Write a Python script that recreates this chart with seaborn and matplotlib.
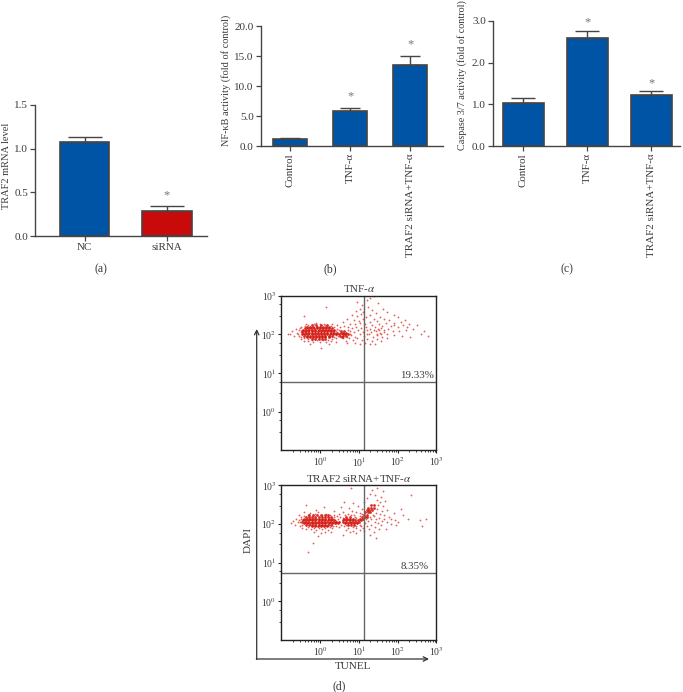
import numpy as np
import pandas as pd
import seaborn as sns
import matplotlib.pyplot as plt

nc_labels = ["NC", "siRNA"]
nc_values = [1.07, 0.29]
nc_tops = [1.13, 0.35]

nfkb_labels = ["Control", "TNF-α", "TRAF2 siRNA+TNF-α"]
nfkb_values = [1.2, 5.95, 13.45]
nfkb_tops = [1.35, 6.35, 15.0]

casp_values = [1.03, 2.58, 1.23]
casp_tops = [1.15, 2.76, 1.31]

# flow cytometry clouds in log10 units. core: one row per DAPI level (y, [x, x, ...])
tnf_core = [
    (2.24, [-0.22, -0.1, 0.03, 0.17]),
    (2.2, [-0.33, -0.25, -0.17, -0.09, -0.01, 0.07, 0.15, 0.23]),
    (2.16, [-0.4, -0.32, -0.24, -0.16, -0.08, 0.0, 0.08, 0.16, 0.24, 0.3]),
    (2.12, [-0.44, -0.36, -0.28, -0.2, -0.12, -0.04, 0.04, 0.12, 0.2, 0.28, 0.35]),
    (2.08, [-0.46, -0.38, -0.3, -0.22, -0.14, -0.06, 0.02, 0.1, 0.18, 0.26, 0.33, 0.55, 0.62]),
    (2.04, [-0.45, -0.37, -0.29, -0.21, -0.13, -0.05, 0.03, 0.11, 0.19, 0.27, 0.36, 0.45, 0.53, 0.6, 0.67]),
    (2.0, [-0.46, -0.38, -0.3, -0.22, -0.14, -0.06, 0.02, 0.1, 0.18, 0.26, 0.34, 0.42, 0.5, 0.58, 0.65, 0.71]),
    (1.96, [-0.42, -0.34, -0.26, -0.18, -0.1, -0.02, 0.06, 0.14, 0.22, 0.3, 0.52, 0.6, 0.66]),
    (1.92, [-0.34, -0.26, -0.18, -0.1, -0.02, 0.06, 0.14, 0.22, 0.56]),
    (1.88, [-0.2, -0.12, -0.04, 0.04, 0.12]),
]
tnf_halo = [
    (1.38, 3.0), (1.3, 2.93), (0.15, 2.72), (1.2, 2.88), (0.95, 2.84), (1.08, 2.76), (1.5, 2.8), (1.62, 2.66),
    (1.02, 2.66), (1.12, 2.58), (0.92, 2.61), (1.24, 2.7), (1.35, 2.62), (1.44, 2.55), (1.72, 2.58), (1.9, 2.5),
    (-0.42, 2.48), (0.82, 2.5), (0.96, 2.47), (1.06, 2.52), (1.18, 2.44), (1.3, 2.51), (1.55, 2.46), (1.66, 2.41),
    (2.02, 2.45), (2.18, 2.38), (0.7, 2.4), (0.88, 2.37), (1.0, 2.35), (1.12, 2.39), (1.4, 2.4), (1.48, 2.34),
    (1.78, 2.36), (1.92, 2.3), (2.08, 2.33), (2.3, 2.27), (2.5, 2.24), (0.58, 2.31), (0.76, 2.28), (0.9, 2.26),
    (1.04, 2.3), (1.16, 2.26), (1.28, 2.33), (1.35, 2.24), (1.52, 2.28), (1.6, 2.22), (1.7, 2.3), (1.84, 2.22),
    (2.0, 2.18), (2.15, 2.24), (2.4, 2.14), (-0.1, 2.3), (0.1, 2.27), (0.32, 2.26), (0.44, 2.23), (-0.35, 2.26),
    (-0.5, 2.2), (-0.62, 2.15), (-0.55, 2.1), (-0.72, 2.08), (-0.6, 2.03), (-0.78, 2.02), (-0.68, 1.97), (-0.55, 1.95),
    (-0.84, 2.0), (-0.5, 1.89), (-0.42, 1.84), (-0.3, 1.82), (-0.18, 1.8), (0.0, 1.79), (0.15, 1.81), (0.28, 1.84),
    (0.4, 1.9), (0.44, 2.15), (0.52, 2.2), (0.62, 2.22), (0.72, 2.18), (0.82, 2.16), (0.94, 2.2), (1.06, 2.16),
    (1.18, 2.19), (1.3, 2.15), (1.42, 2.2), (1.5, 2.13), (1.58, 2.17), (1.66, 2.12), (1.76, 2.15), (1.88, 2.09),
    (2.05, 2.08), (2.22, 2.1), (2.6, 2.02), (2.78, 1.96), (0.78, 2.08), (0.88, 2.05), (0.98, 2.1), (1.1, 2.06),
    (1.2, 2.11), (1.32, 2.05), (1.44, 2.09), (1.54, 2.03), (1.64, 2.06), (1.74, 2.02), (1.9, 1.98), (2.12, 1.97),
    (2.32, 1.92), (0.8, 1.98), (0.9, 1.94), (1.02, 2.0), (1.14, 1.95), (1.26, 2.0), (1.36, 1.94), (1.48, 1.98),
    (1.6, 1.93), (1.72, 1.9), (0.74, 1.9), (0.84, 1.86), (0.96, 1.9), (1.08, 1.85), (1.2, 1.88), (1.34, 1.84),
    (1.46, 1.88), (1.58, 1.82), (0.66, 1.84), (0.9, 1.78), (1.02, 1.74), (1.16, 1.78), (1.3, 1.74), (0.03, 1.64),
    (-0.25, 1.76), (0.22, 1.74), (0.4, 1.8), (0.7, 1.78), (1.42, 1.76), (1.92, 2.24), (2.25, 2.2), (2.68, 2.08),
    (-0.52, 2.16), (-0.5, 2.06), (-0.56, 2.01), (-0.48, 1.94), (-0.4, 2.22), (-0.3, 2.25), (-0.15, 2.27), (0.0, 2.26),
    (0.12, 2.23), (0.28, 2.21), (0.36, 2.18), (0.4, 2.09), (0.41, 1.98), (0.36, 1.93), (0.3, 1.89), (0.2, 1.86),
    (0.08, 1.85), (-0.08, 1.85), (-0.22, 1.86), (-0.32, 1.88), (-0.42, 1.91), (0.48, 2.12), (0.72, 2.1), (0.78, 2.02),
    (0.7, 1.94), (0.6, 1.9), (0.47, 1.96), (1.22, 2.02), (1.38, 2.12), (1.46, 2.02), (1.52, 2.1), (1.58, 2.0),
]
sirna_core = [
    (2.22, [-0.28, -0.18, -0.08, 0.02, 0.12, 0.2, 1.14, 1.2]),
    (2.18, [-0.36, -0.28, -0.2, -0.12, -0.04, 0.04, 0.12, 0.2, 0.28, 0.68, 0.76, 1.08, 1.16, 1.22]),
    (2.14, [-0.42, -0.34, -0.26, -0.18, -0.1, -0.02, 0.06, 0.14, 0.22, 0.3, 0.62, 0.7, 0.78, 0.86, 1.04, 1.12]),
    (2.1, [-0.44, -0.36, -0.28, -0.2, -0.12, -0.04, 0.04, 0.12, 0.2, 0.28, 0.36, 0.58, 0.66, 0.74, 0.82, 0.9, 0.98, 1.06]),
    (2.06, [-0.46, -0.38, -0.3, -0.22, -0.14, -0.06, 0.02, 0.1, 0.18, 0.26, 0.34, 0.42, 0.5, 0.6, 0.68, 0.76, 0.84, 0.92, 1.0]),
    (2.02, [-0.42, -0.34, -0.26, -0.18, -0.1, -0.02, 0.06, 0.14, 0.22, 0.3, 0.38, 0.46, 0.64, 0.72, 0.8, 0.88, 0.96]),
    (1.98, [-0.36, -0.28, -0.2, -0.12, -0.04, 0.04, 0.12, 0.2, 0.28, 0.72, 0.8, 0.88]),
    (1.94, [-0.22, -0.14, -0.06, 0.02, 0.1, 0.18]),
    (2.3, [1.16, 1.23, 1.3]),
    (2.36, [1.2, 1.27, 1.34]),
    (2.42, [1.24, 1.31, 1.38]),
    (2.48, [1.32, 1.38]),
]
sirna_halo = [
    (0.8, 2.92), (1.35, 2.88), (1.48, 2.92), (1.62, 2.84), (1.3, 2.78), (1.42, 2.76), (1.58, 2.7), (2.35, 2.76),
    (1.22, 2.66), (1.46, 2.62), (1.55, 2.58), (1.68, 2.6), (0.62, 2.58), (0.85, 2.55), (1.14, 2.56), (1.5, 2.5),
    (1.62, 2.46), (-0.35, 2.48), (0.1, 2.44), (0.55, 2.44), (0.74, 2.42), (0.98, 2.46), (1.08, 2.4), (1.46, 2.38),
    (1.6, 2.34), (1.72, 2.36), (2.1, 2.4), (-0.1, 2.36), (0.36, 2.34), (0.6, 2.32), (0.82, 2.34), (0.94, 2.3),
    (1.44, 2.28), (1.55, 2.26), (1.66, 2.24), (1.9, 2.28), (2.15, 2.22), (-0.42, 2.3), (-0.25, 2.28), (-0.05, 2.3),
    (0.16, 2.26), (0.35, 2.24), (0.5, 2.25), (0.72, 2.26), (0.88, 2.24), (1.02, 2.28), (1.4, 2.2), (1.52, 2.16),
    (1.64, 2.14), (1.78, 2.18), (-0.55, 2.22), (-0.48, 2.18), (-0.62, 2.14), (-0.54, 2.1), (-0.7, 2.08), (-0.58, 2.04),
    (-0.74, 2.02), (-0.64, 1.98), (-0.52, 1.96), (-0.46, 1.9), (-0.36, 1.86), (-0.24, 1.88), (-0.1, 1.84), (0.06, 1.86),
    (0.2, 1.84), (0.3, 1.9), (0.42, 1.94), (0.52, 2.18), (0.46, 2.14), (0.54, 1.98), (0.62, 1.94), (0.72, 1.9),
    (0.84, 1.93), (0.94, 1.9), (1.06, 1.96), (1.16, 2.02), (1.24, 2.08), (1.32, 2.12), (1.42, 2.06), (1.5, 2.02),
    (1.6, 2.08), (1.72, 2.06), (1.82, 2.0), (1.94, 2.1), (2.02, 2.06), (2.28, 2.12), (2.58, 2.1), (2.74, 2.12),
    (2.62, 1.96), (1.12, 1.9), (1.22, 1.94), (1.32, 1.98), (1.42, 1.92), (1.52, 1.88), (1.7, 1.86), (1.14, 1.82),
    (1.26, 1.86), (1.38, 1.8), (1.02, 1.84), (0.84, 1.82), (0.68, 1.84), (0.76, 1.78), (0.92, 1.76), (-0.16, 1.78),
    (0.02, 1.76), (0.14, 1.78), (0.28, 1.8), (0.6, 1.72), (1.3, 1.72), (1.44, 1.64), (-0.05, 1.68), (-0.18, 1.5),
    (1.18, 2.14), (1.28, 2.18), (1.36, 2.24), (1.44, 2.12), (-0.32, 1.28), (1.08, 2.26), (0.9, 2.18), (0.44, 2.2),
    (0.58, 2.16), (0.38, 2.1), (0.5, 1.92), (1.56, 1.98), (1.96, 1.98), (1.82, 2.12),
    (-0.5, 2.14), (-0.52, 2.04), (-0.46, 1.98), (-0.42, 2.2), (-0.32, 2.23), (-0.14, 2.25), (0.06, 2.24), (0.26, 2.22),
    (0.36, 2.17), (0.42, 2.08), (0.42, 2.02), (0.34, 1.96), (0.26, 1.92), (0.12, 1.89), (-0.02, 1.89), (-0.16, 1.9),
    (-0.3, 1.93), (0.64, 2.22), (0.8, 2.22), (0.94, 2.16), (1.02, 2.2), (1.02, 1.98), (0.94, 1.95), (0.66, 1.98),
]
cloud_titles = ["TNF-$\\alpha$", "TRAF2 siRNA+TNF-$\\alpha$"]
cloud_percents = ["19.33%", "8.35%"]
flow_ticks = [1, 10, 100, 1000]
flow_ticklabels = ["10$^0$", "10$^1$", "10$^2$", "10$^3$"]

W, H = 683, 692
GRAY = "#454545"
TEXT = "#3a3a3a"
BLUE = "#0054a6"
RED = "#c80a0a"

sns.set_style("white")
plt.rcParams["font.family"] = ["Liberation Serif", "DejaVu Serif"]
plt.rcParams["mathtext.fontset"] = "stix"
plt.rcParams["font.size"] = 8


def new_axes(fig, left, top, right, bottom):
    return fig.add_axes([left / W, 1 - bottom / H, (right - left) / W, (bottom - top) / H])


def rows_frame(rows):
    xs, ys = [], []
    for y, row in rows:
        for x in row:
            xs.append(10 ** x)
            ys.append(10 ** y)
    return pd.DataFrame({"tunel": xs, "dapi": ys})


def pairs_frame(pairs):
    return pd.DataFrame({"tunel": [10 ** p[0] for p in pairs], "dapi": [10 ** p[1] for p in pairs]})


def bar_panel(ax, labels, values, tops, colors, width, ylim, yticks, xlim, stars, star_gap, rot, cap):
    df = pd.DataFrame({"group": labels, "value": values})
    sns.barplot(data=df, x="group", y="value", hue="group", palette=colors, width=width,
                edgecolor=GRAY, linewidth=1.2, legend=False, ax=ax, saturation=1)
    pos = np.arange(len(values))
    vals = np.array(values)
    ax.errorbar(pos, vals, yerr=[np.zeros(len(vals)), np.array(tops) - vals], fmt="none",
                ecolor=GRAY, elinewidth=1, capsize=cap, capthick=1)
    for i, has_star in enumerate(stars):
        if has_star:
            ax.text(i, tops[i] + star_gap, "*", ha="center", va="center", fontsize=9, color="#777777")
    ax.set_xlim(*xlim)
    ax.set_ylim(*ylim)
    ax.set_yticks(yticks)
    ax.set_yticklabels([f"{t:.1f}" for t in yticks], color=TEXT, fontsize=8)
    ax.set_xticks(pos)
    ax.set_xticklabels(labels, rotation=rot, color=TEXT, fontsize=7.9)
    ax.set_xlabel("")
    ax.set_ylabel("")
    ax.tick_params(axis="both", length=3.5, width=0.9, color=GRAY, pad=1.5, bottom=True, left=True)
    sns.despine(ax=ax)
    for s in ["left", "bottom"]:
        ax.spines[s].set_color(GRAY)
        ax.spines[s].set_linewidth(1)


def flow_panel(ax, core, halo, title, percent, hline, text_y, text_x):
    sns.scatterplot(data=pairs_frame(halo), x="tunel", y="dapi", s=1.7, color="#dc3a30", alpha=0.8, linewidth=0, ax=ax)
    sns.scatterplot(data=rows_frame(core), x="tunel", y="dapi", s=4, color="#d2170f", alpha=0.9, linewidth=0, ax=ax)
    ax.set_xscale("log")
    ax.set_yscale("log")
    ax.set_xlim(0.1, 1000)
    ax.set_ylim(0.1, 1000)
    ax.axvline(10 ** 1.14, color="#666666", lw=1)
    ax.axhline(hline, color="#666666", lw=1)
    ax.set_xticks(flow_ticks)
    ax.set_xticklabels(flow_ticklabels, fontsize=7, color=TEXT)
    ax.set_yticks(flow_ticks)
    ax.set_yticklabels(flow_ticklabels, fontsize=7, color=TEXT)
    ax.set_xlabel("")
    ax.set_ylabel("")
    ax.set_title(title, fontsize=7.9, color=TEXT, pad=2.5)
    ax.tick_params(which="major", length=2.5, width=0.8, color="#222222", pad=1, bottom=True, left=True)
    ax.tick_params(which="minor", length=1.5, width=0.6, color="#222222", bottom=True, left=True)
    ax.xaxis.set_minor_locator(plt.LogLocator(base=10, subs=np.arange(2, 10), numticks=10))
    ax.yaxis.set_minor_locator(plt.LogLocator(base=10, subs=[3, 6], numticks=10))
    ax.xaxis.set_minor_formatter(plt.NullFormatter())
    ax.yaxis.set_minor_formatter(plt.NullFormatter())
    for s in ax.spines.values():
        s.set_color("#222222")
        s.set_linewidth(1)
        s.set_visible(True)
    ax.text(text_x, text_y, percent, transform=ax.transAxes, ha="right", va="bottom", fontsize=7.8, color=TEXT)


fig = plt.figure(figsize=(W / 100, H / 100), dpi=100, facecolor="white")

ax_a = new_axes(fig, 35, 104.7, 207, 236.3)
bar_panel(ax_a, nc_labels, nc_values, nc_tops, [BLUE, RED], 0.6, (0, 1.5), [0, 0.5, 1.0, 1.5],
          (-0.604, 1.486), [False, True], 0.12, 0, 11.9)

ax_b = new_axes(fig, 260.7, 26, 443, 146.3)
bar_panel(ax_b, nfkb_labels, nfkb_values, nfkb_tops, [BLUE] * 3, 0.567, (0, 20), [0, 5, 10, 15, 20],
          (-0.49, 2.55), [False, True, True], 2.0, 90, 7.2)

ax_c = new_axes(fig, 492.7, 20.7, 680, 146.3)
bar_panel(ax_c, nfkb_labels, casp_values, casp_tops, [BLUE] * 3, 0.64, (0, 3), [0, 1, 2, 3],
          (-0.473, 2.45), [False, True, True], 0.2, 90, 8.6)

ax_d1 = new_axes(fig, 281.3, 295.7, 436.3, 450.3)
flow_panel(ax_d1, tnf_core, tnf_halo, cloud_titles[0], cloud_percents[0], 10 ** 0.76, 0.455, 0.985)
ax_d2 = new_axes(fig, 281.3, 485.3, 436.3, 640)
flow_panel(ax_d2, sirna_core, sirna_halo, cloud_titles[1], cloud_percents[1], 10 ** 0.74, 0.445, 0.95)

# big DAPI / TUNEL arrows, axis names and panel letters
overlay = fig.add_axes([0, 0, 1, 1], facecolor="none")
overlay.set_xlim(0, W)
overlay.set_ylim(H, 0)
overlay.axis("off")
overlay.annotate("", xy=(256.7, 329), xytext=(256.7, 659.5),
                 arrowprops=dict(arrowstyle="->", color="#333333", lw=0.9, shrinkA=0, shrinkB=0))
overlay.annotate("", xy=(429, 659), xytext=(256.3, 659),
                 arrowprops=dict(arrowstyle="->", color="#333333", lw=0.9, shrinkA=0, shrinkB=0))
overlay.text(6.5, 166, "TRAF2 mRNA level", rotation=90, ha="center", va="center", fontsize=7.5, color=TEXT)
overlay.text(226, 80, "NF-κB activity (fold of control)", rotation=90, ha="center", va="center", fontsize=7.4, color=TEXT)
overlay.text(462, 75, "Caspase 3/7 activity (fold of control)", rotation=90, ha="center", va="center", fontsize=7.3, color=TEXT)
overlay.text(248, 540, "DAPI", rotation=90, ha="center", va="center", fontsize=8, color=TEXT)
overlay.text(353, 666.5, "TUNEL", ha="center", va="center", fontsize=8, color=TEXT)
overlay.text(101, 269, "(a)", ha="center", va="center", fontsize=8.5, color=TEXT)
overlay.text(330, 269, "(b)", ha="center", va="center", fontsize=8.5, color=TEXT)
overlay.text(567, 269, "(c)", ha="center", va="center", fontsize=8.5, color=TEXT)
overlay.text(339, 686, "(d)", ha="center", va="center", fontsize=8.5, color=TEXT)

fig.savefig("out.png", dpi=100)
